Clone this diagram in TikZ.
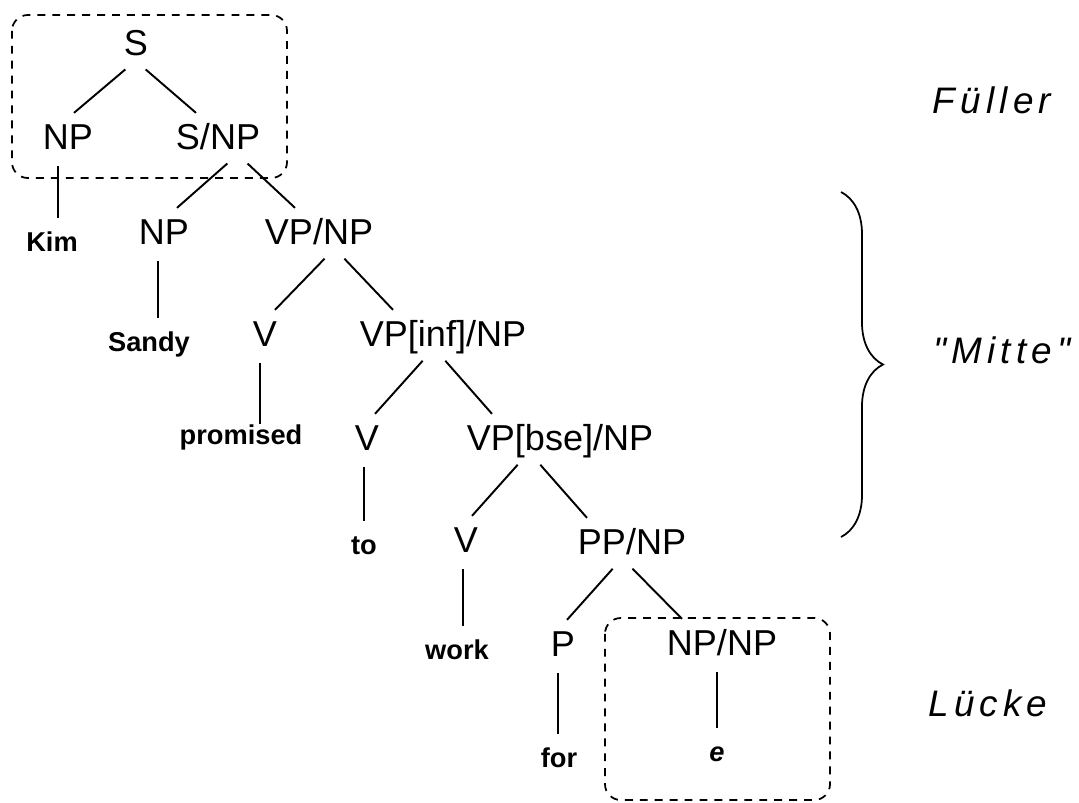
\documentclass[tikz,border=0pt]{standalone}
\usepackage{fontspec}
\setmainfont{Liberation Sans}
\newfontfamily\gapfont[LetterSpace=14]{Liberation Sans}
\usetikzlibrary{decorations.pathreplacing}

\newdimen\pxu
\pxu=0.02cm

\tikzset{
  cat/.style={font=\fontsize{20.5}{24}\selectfont, text height=14.5pt, text depth=0pt, inner xsep=1pt, inner ysep=6.3pt},
  word/.style={font=\bfseries\fontsize{15.5}{18}\selectfont, text height=11pt, text depth=0pt, inner xsep=1pt, inner ysep=8pt},
  gaplabel/.style={font=\gapfont\itshape\fontsize{21}{25}\selectfont},
  edge/.style={line width=1.1pt, shorten <=2pt},
  stem/.style={line width=0.7pt, shorten <=3pt},
  gapbox/.style={dash pattern=on 4.5pt off 4pt, line width=1pt, rounded corners=9pt},
  mittebrace/.style={decorate, decoration={brace, amplitude=0.84cm, aspect=0.5}, line width=1pt}
}

\begin{document}
\begin{tikzpicture}[x=0.02cm, y=-0.02cm]
        \clip (0,0) rectangle (1079,802);

        %categories
        \node[cat] (s)     at (136,43)  {S};
        \node[cat] (np1)   at (68,137)  {NP};
        \node[cat] (snp)   at (218,137) {S/NP};
        \node[cat] (np2)   at (164,232) {NP};
        \node[cat] (vpnp)  at (319,232) {VP/NP};
        \node[cat] (v1)    at (265,334) {V};
        \node[cat] (vpinf) at (443,334) {VP[inf]/NP};
        \node[cat] (v2)    at (367,438) {V};
        \node[cat] (vpbse) at (560,438) {VP[bse]/NP};
        \node[cat] (v3)    at (466,540) {V};
        \node[cat] (ppnp)  at (632,542) {PP/NP};
        \node[cat] (p)     at (563,644) {P};
        \node[cat] (npnp)  at (722,643) {NP/NP};

        %words
        \node[word] (kim)      at (52,242)  {Kim};
        \node[word] (sandy)    at (149,342) {Sandy};
        \node[word] (promised) at (241,435) {promised};
        \node[word] (to)       at (364,545) {to};
        \node[word] (work)     at (457,650) {work};
        \node[word] (for)      at (559,758) {for};
        \node[word, font=\bfseries\itshape\fontsize{15.5}{18}\selectfont] (e) at (717,752) {e};

        %branches
        \foreach \a/\da/\b/\db in {s/-8/np1/6, s/7/snp/-22, snp/12/np2/13, snp/27/vpnp/-24,
            vpnp/8/v1/10, vpnp/23/vpinf/-50, vpinf/-18/v2/8, vpinf/0/vpbse/-68,
            vpbse/-40/v3/6, vpbse/-22/ppnp/-45, ppnp/-17/p/4, ppnp/-2/npnp/-40}
          \draw[edge] ([xshift=\da\pxu]\a.south) -- ([xshift=\db\pxu]\b.north);

        %lexical lines
        \foreach \a/\dx/\b/\dy in {np1/-10/kim/0, np2/-6/sandy/0, v1/-5/promised/-13, v2/-3/to/0,
            v3/-3/work/0, p/-5/for/0, npnp/-5/e/0}
          \draw[stem] ([xshift=\dx\pxu]\a.south) -- ([xshift=\dx\pxu,yshift=\dy\pxu]\a.south |- \b.north);

        %filler and gap
        \draw[gapbox] (12,15) rectangle (287,178);
        \draw[gapbox] (605,618) rectangle (830,800);
        \node[gaplabel] (fueller) at (992,100) {Füller};
        \node[gaplabel] (luecke)  at (988,703) {Lücke};

        %middle
        \coordinate (btop) at (841,192);
        \coordinate (bbot) at (841,537);
        \draw[mittebrace] (btop) -- (bbot);
        \node[gaplabel] (mitte) at (1002,350) {"Mitte"};
\end{tikzpicture}
\end{document}
